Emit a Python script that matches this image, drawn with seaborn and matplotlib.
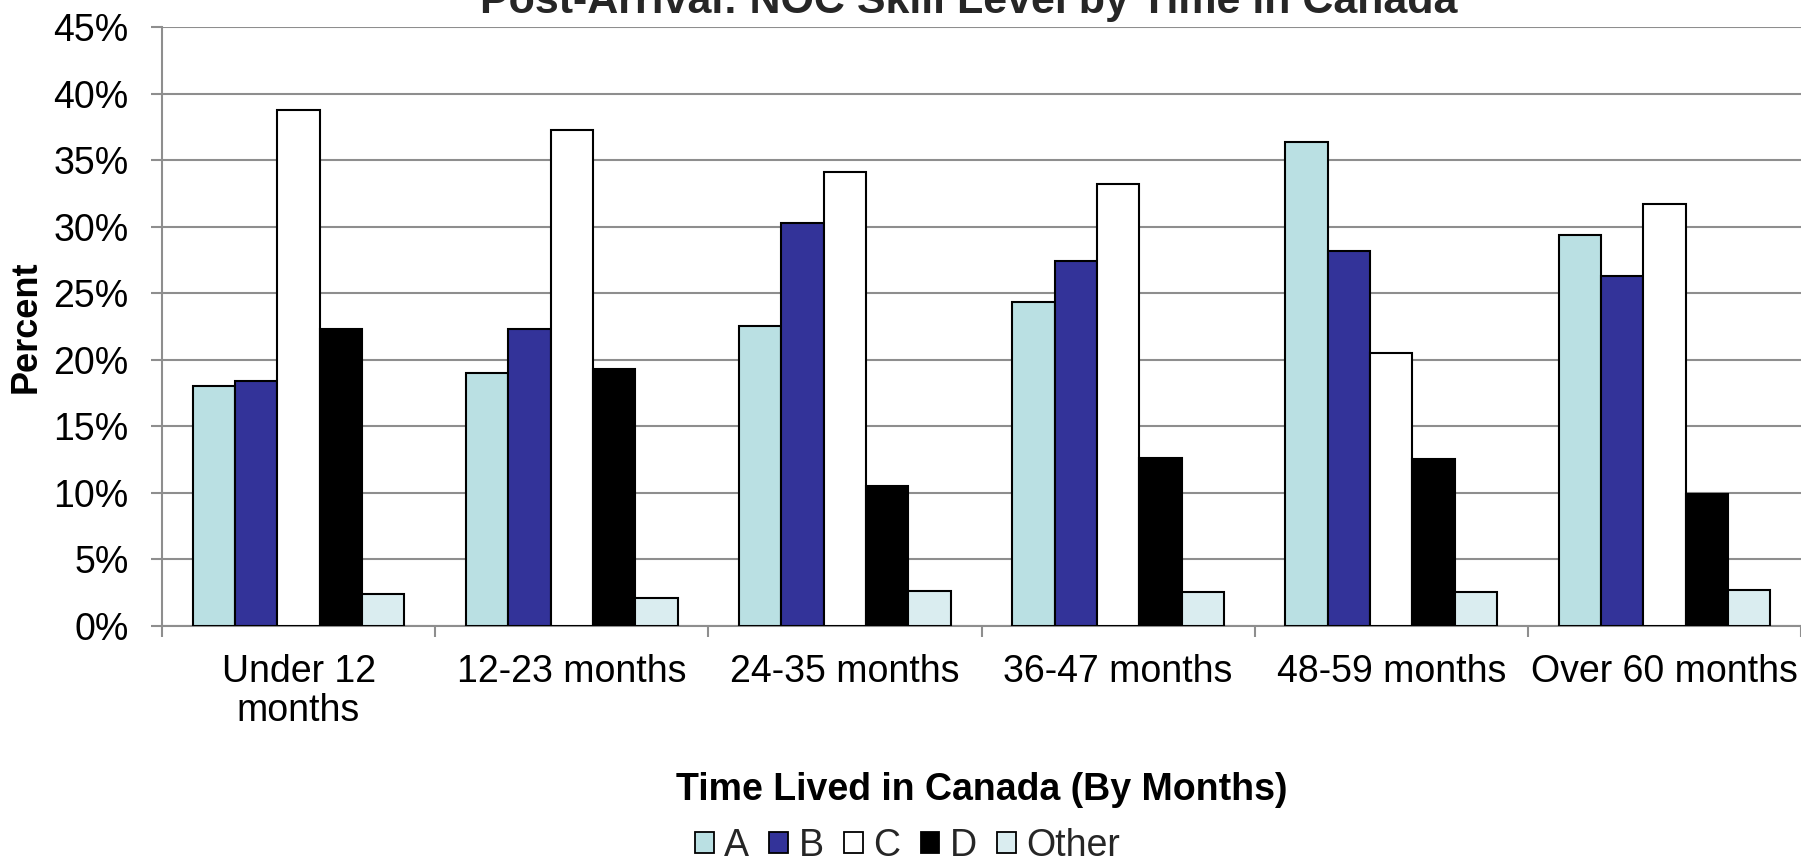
import matplotlib
matplotlib.use("Agg")
import matplotlib.pyplot as plt
from matplotlib.patches import Patch
from matplotlib.ticker import FixedLocator, PercentFormatter
import seaborn as sns
import pandas as pd

categories = ["Under 12\nmonths", "12-23 months", "24-35 months",
              "36-47 months", "48-59 months", "Over 60 months"]
series = ["A", "B", "C", "D", "Other"]
A = [18.0, 19.0, 22.5, 24.3, 36.4, 29.4]
B = [18.4, 22.3, 30.3, 27.4, 28.2, 26.3]
C = [38.8, 37.3, 34.1, 33.2, 20.5, 31.7]
D = [22.3, 19.3, 10.5, 12.6, 12.5, 9.9]
Other = [2.4, 2.1, 2.6, 2.5, 2.5, 2.7]
values = {"A": A, "B": B, "C": C, "D": D, "Other": Other}
colors = ["#BAE0E3", "#333399", "#FFFFFF", "#000000", "#DAEDF0"]

rows = []
for s in series:
    for c, v in zip(categories, values[s]):
        rows.append({"cat": c, "series": s, "val": v})
df = pd.DataFrame(rows)

sns.set_theme(style="white")
plt.rcParams["font.family"] = ["Liberation Sans", "DejaVu Sans"]

W, H = 1801, 861
fig = plt.figure(figsize=(W / 100, H / 100), dpi=100)
ax_left, ax_bottom_px, ax_top_px = 162, 625.5, 27.3
ax = fig.add_axes([ax_left / W, 1 - ax_bottom_px / H, 1 - ax_left / W,
                   (ax_bottom_px - ax_top_px) / H])

sns.barplot(data=df, x="cat", y="val", hue="series", hue_order=series,
            order=categories, palette=colors, edgecolor="black", saturation=1,
            linewidth=1.5, width=0.775, ax=ax, legend=False, zorder=3)

grey = "#8E8E8E"
ax.set_ylim(0, 45)
ax.set_xlim(-0.5, 5.5)
ax.set_yticks(range(0, 46, 5))
ax.yaxis.set_major_formatter(PercentFormatter(decimals=0))
ax.yaxis.grid(True, color=grey, linewidth=1.5, zorder=0)
ax.set_axisbelow(True)
for sp in ["top", "right"]:
    ax.spines[sp].set_visible(False)
for sp in ["left", "bottom"]:
    ax.spines[sp].set_color(grey)
    ax.spines[sp].set_linewidth(1.5)

ax.tick_params(axis="y", which="major", direction="out", length=8, width=1.5,
               color=grey, labelsize=27, pad=16, labelcolor="black", left=True)
ax.xaxis.set_minor_locator(FixedLocator([i - 0.5 for i in range(7)]))
ax.tick_params(axis="x", which="minor", direction="out", length=8, width=1.5,
               color=grey, bottom=True)
ax.tick_params(axis="x", which="major", length=0, labelsize=27, pad=20.5,
               labelcolor="black")
for t in ax.get_xticklabels():
    t.set_linespacing(1.1)

ax.set_xlabel("Time Lived in Canada (By Months)", fontsize=27, fontweight="bold",
              color="black")
ax.xaxis.set_label_coords(0.5, (ax_bottom_px - 771.5) / (ax_bottom_px - ax_top_px))
ax.set_ylabel("Percent", fontsize=26, fontweight="bold", color="black")
ax.yaxis.set_label_coords((44 - ax_left) / (W - ax_left), 0.5)

fig.text(969 / W, 1 - 13 / H, "Post-Arrival: NOC Skill Level by Time in Canada",
         ha="center", va="baseline", fontsize=31, fontweight="bold")

handles = [Patch(facecolor=c, edgecolor="black", linewidth=1.3) for c in colors]
fig.legend(handles, series, loc="center", bbox_to_anchor=(907.5 / W, 1 - 845.5 / H),
           ncol=5, frameon=False, fontsize=27, handlelength=0.5, handleheight=0.5,
           handletextpad=0.28, columnspacing=0.54, borderaxespad=0, borderpad=0)

fig.savefig("out.png", dpi=100)
